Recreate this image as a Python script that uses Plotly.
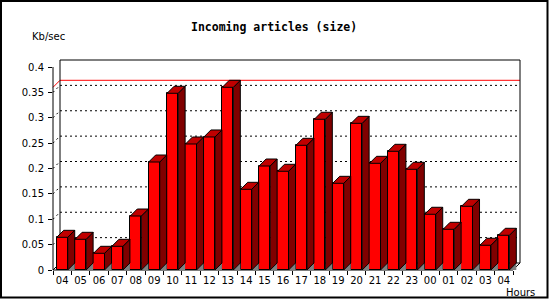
import plotly.graph_objects as go

# ---- data ----
hours = ["04", "05", "06", "07", "08", "09", "10", "11", "12", "13", "14", "15",
         "16", "17", "18", "19", "20", "21", "22", "23", "00", "01", "02", "03", "04"]
kbps = [0.0644, 0.0605, 0.0329, 0.0467, 0.1064, 0.2128, 0.3482, 0.2483, 0.2621,
        0.3600, 0.1590, 0.2049, 0.1945, 0.2457, 0.2970, 0.1708, 0.2890, 0.2102,
        0.2339, 0.1984, 0.1098, 0.0802, 0.1255, 0.0487, 0.0684]
y_ticks = [0, 0.05, 0.1, 0.15, 0.2, 0.25, 0.3, 0.35, 0.4]
y_tick_labels = ["0", "0.05", "0.1", "0.15", "0.2", "0.25", "0.3", "0.35", "0.4"]
title_text = "Incoming articles (size)"
y_title = "Kb/sec"
x_title = "Hours"

# ---- geometry ----
W, H = 550, 300
L, R, T, B = 53, 30, 60, 30
DEPTH = 7
n = len(hours)
pw = W - L - R
ph = H - T - B
ppx = (pw - DEPTH) / n
dx = DEPTH / ppx
YMAX = y_ticks[-1]
ppy = (ph - DEPTH) / YMAX
dy = DEPTH / ppy
bw = 0.6
x0r, x1r = -0.5, n - 0.5 + dx
y0r, y1r = 0, YMAX + dy

def xp(x):
    return (x - x0r) / (x1r - x0r)

def yp(y):
    return (y - y0r) / (y1r - y0r)

def pxx(p):
    return (p - L) / pw

def pxy(p):
    return (H - B - p) / ph

FONT = "DejaVu Sans"
RED, SIDE, TOP, SHADOW = "#ff0000", "#800000", "#c00000", "#808080"

fig = go.Figure()

# shadows
sx, sy = [], []
for i, v in enumerate(kbps):
    a = i + bw / 2
    sx += [a, a + dx, a + dx, a, None]
    sy += [0, dy, 0, 0, None]
fig.add_trace(go.Scatter(x=sx, y=sy, fill="toself", fillcolor=SHADOW,
                         mode="lines", line=dict(width=0, color=SHADOW),
                         hoverinfo="skip", showlegend=False))

# front faces
fig.add_trace(go.Bar(x=list(range(n)), y=kbps, width=bw,
                     marker=dict(color=RED, line=dict(color="black", width=1)),
                     hoverinfo="skip", showlegend=False))

# side faces
sx, sy = [], []
for i, v in enumerate(kbps):
    a = i + bw / 2
    sx += [a, a + dx, a + dx, a, a, None]
    sy += [0, dy, v + dy, v, 0, None]
fig.add_trace(go.Scatter(x=sx, y=sy, fill="toself", fillcolor=SIDE,
                         mode="lines", line=dict(width=1, color="black"),
                         hoverinfo="skip", showlegend=False))

# top faces
tx, ty = [], []
for i, v in enumerate(kbps):
    a, b = i - bw / 2, i + bw / 2
    tx += [a, a + dx, b + dx, b, a, None]
    ty += [v, v + dy, v + dy, v, v, None]
fig.add_trace(go.Scatter(x=tx, y=ty, fill="toself", fillcolor=TOP,
                         mode="lines", line=dict(width=1, color="black"),
                         hoverinfo="skip", showlegend=False))

shapes = []
def seg(xa, ya, xb, yb, color="black", dash="solid", width=1):
    shapes.append(dict(type="line", xref="paper", yref="paper",
                       x0=xp(xa), y0=yp(ya), x1=xp(xb), y1=yp(yb),
                       line=dict(color=color, width=width, dash=dash),
                       layer="below"))

# grid lines on the back wall + small connectors
for t in y_ticks[1:-1]:
    seg(-0.5 + dx, t + dy, n - 0.5 + dx, t + dy, dash="2px,3px")
    seg(-0.5, t, -0.5 + dx, t + dy, dash="2px,3px")

# max line
vmax = max(kbps)
seg(-0.5 + dx, vmax + dy, n - 0.5 + dx, vmax + dy, color="red")
seg(-0.5, vmax, -0.5 + dx, vmax + dy, color="red")

# frame
seg(-0.5, 0, -0.5, YMAX)
seg(-0.5, 0, n - 0.5, 0)
seg(-0.5, 0, -0.5 + dx, dy)
seg(-0.5 + dx, dy, -0.5 + dx, YMAX + dy)
seg(-0.5 + dx, YMAX + dy, n - 0.5 + dx, YMAX + dy)
seg(n - 0.5 + dx, YMAX + dy, n - 0.5 + dx, dy)
seg(n - 0.5 + dx, dy, n - 0.5, 0)
seg(-0.5 + dx, dy, n - 0.5 + dx, dy)

# outer border
shapes.append(dict(type="rect", xref="paper", yref="paper",
                   x0=pxx(1), x1=pxx(547.5), y0=pxy(297.5), y1=pxy(1),
                   line=dict(color="black", width=2), layer="above"))

annotations = [
    dict(text="<b>" + title_text + "</b>", xref="paper", yref="paper",
         x=pxx(274), y=pxy(27), xanchor="center", yanchor="middle",
         showarrow=False, font=dict(family="DejaVu Sans Mono", size=11.5, color="black")),
    dict(text=y_title, xref="paper", yref="paper",
         x=pxx(30), y=pxy(37), xanchor="left", yanchor="middle",
         showarrow=False, font=dict(family=FONT, size=10, color="black")),
    dict(text=x_title, xref="paper", yref="paper",
         x=pxx(504), y=pxy(292), xanchor="left", yanchor="middle",
         showarrow=False, font=dict(family=FONT, size=10, color="black")),
]

fig.update_layout(
    width=W, height=H, autosize=False,
    margin=dict(l=L, r=R, t=T, b=B, pad=0),
    paper_bgcolor="white", plot_bgcolor="white",
    shapes=shapes, annotations=annotations, showlegend=False,
    bargap=0,
    xaxis=dict(range=[x0r, x1r], tickmode="array", tickvals=list(range(n)),
               ticktext=hours, ticks="", showgrid=False, zeroline=False,
               showline=False, tickfont=dict(family=FONT, size=10, color="black"),
               ticklabelstandoff=3,
               minor=dict(tickmode="array", tickvals=[i - 0.5 for i in range(n + 1)],
                          ticks="outside", ticklen=4, tickcolor="black", tickwidth=1,
                          showgrid=False),
               fixedrange=True),
    yaxis=dict(range=[y0r, y1r], tickmode="array", tickvals=y_ticks,
               ticktext=y_tick_labels, ticks="outside", ticklen=4,
               tickcolor="black", tickwidth=1, showgrid=False, zeroline=False,
               showline=False, tickfont=dict(family=FONT, size=10, color="black"),
               ticklabelstandoff=2,
               fixedrange=True),
)

fig.write_html("out.html", config={"displayModeBar": False})
